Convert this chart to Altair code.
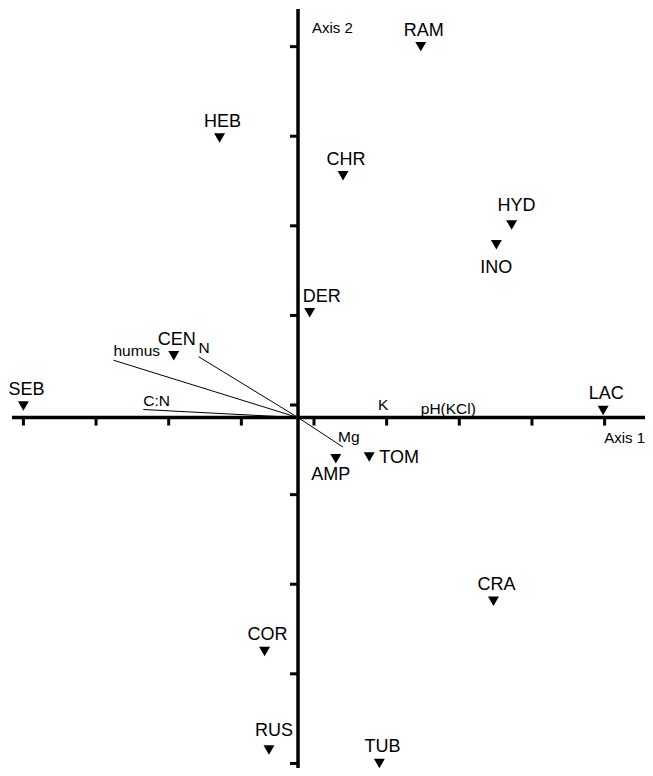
import altair as alt
import pandas as pd

# ---- data (axis units: one tick interval = 1) ----
sites = ["RAM", "HEB", "CHR", "HYD", "INO", "DER", "CEN", "SEB", "LAC",
         "AMP", "TOM", "CRA", "COR", "RUS", "TUB"]
site_x = [1.47, -1.30, 0.40, 2.72, 2.51, -0.06, -1.93, -4.00, 3.98,
          0.30, 0.76, 2.47, -0.68, -0.62, 0.90]
site_y = [4.00, 2.98, 2.56, 2.01, 1.79, 1.03, 0.55, -0.01, -0.06,
          -0.60, -0.58, -2.19, -2.75, -3.85, -4.00]
site_side = ["above", "above", "above", "above2", "below", "aboveright", "above",
             "above", "above", "belowleft", "right", "above", "above", "above2", "above"]

env_vars = ["humus", "N", "C:N", "K", "pH(KCl)", "Mg"]
env_x = [-2.76, -1.59, -2.35, 0.77, 1.47, 0.40]
env_y = [0.50, 0.54, -0.05, -0.15, -0.14, -0.47]
env_side = ["tipleft", "tipleft", "tipleft", "k", "tipleft", "mg"]

origin_x, origin_y = -0.22, -0.14
x_ticks = [-4, -3, -2, -1, 0, 1, 2, 3, 4]
y_ticks = [-4, -3, -2, -1, 0, 1, 2, 3, 4]
x_axis_extent = [-4.157, 4.556]
y_axis_extent = [-4.051, 4.420]
axis_titles = ["Axis 1", "Axis 2"]

FONT = "Liberation Sans"
W, H = 637, 760
xscale = alt.Scale(domain=[-4.212, 4.556], nice=False, zero=False)
yscale = alt.Scale(domain=[-4.051, 4.431], nice=False, zero=False)


def X(f="x"):
    return alt.X(f"{f}:Q", scale=xscale, axis=None)


def Y(f="y"):
    return alt.Y(f"{f}:Q", scale=yscale, axis=None)


sites_df = pd.DataFrame({"label": sites, "x": site_x, "y": site_y, "side": site_side})
env_df = pd.DataFrame({"label": env_vars, "x": env_x, "y": env_y, "side": env_side,
                       "x0": origin_x, "y0": origin_y})
axes_df = pd.DataFrame({
    "x": [x_axis_extent[0], origin_x],
    "x2": [x_axis_extent[1], origin_x],
    "y": [origin_y, y_axis_extent[0]],
    "y2": [origin_y, y_axis_extent[1]],
})
xt_df = pd.DataFrame({"x": x_ticks, "y": origin_y})
yt_df = pd.DataFrame({"y": y_ticks, "x": origin_x})
titles_df = pd.DataFrame({"label": axis_titles,
                          "x": [x_axis_extent[1], origin_x],
                          "y": [origin_y, y_axis_extent[1]],
                          "which": ["x", "y"]})

vectors = alt.Chart(env_df).mark_rule(color="black", strokeWidth=1).encode(
    x=X("x0"), y=Y("y0"), x2="x:Q", y2="y:Q")

axes = alt.Chart(axes_df).mark_rule(color="black", strokeWidth=3.5).encode(
    x=X("x"), y=Y("y"), x2="x2:Q", y2="y2:Q")

xticks = alt.Chart(xt_df).mark_tick(orient="vertical", size=8, thickness=3,
                                    yOffset=4, color="black", opacity=1).encode(x=X(), y=Y())
yticks = alt.Chart(yt_df).mark_tick(orient="horizontal", size=8, thickness=3,
                                    xOffset=-4, color="black", opacity=1).encode(x=X(), y=Y())

points = alt.Chart(sites_df).mark_point(shape="triangle-down", filled=True, size=120,
                                        color="black", opacity=1).encode(x=X(), y=Y())


def text_layer(df, side, align, dx, dy, size):
    return alt.Chart(df).transform_filter(alt.datum.side == side).mark_text(
        align=align, baseline="alphabetic", dx=dx, dy=dy, font=FONT,
        fontSize=size, color="black").encode(x=X(), y=Y(), text="label:N")


site_text = [
    text_layer(sites_df, "above", "center", 3, -11, 18),
    text_layer(sites_df, "above2", "center", 5, -14, 18),
    text_layer(sites_df, "aboveright", "center", 12, -11, 18),
    text_layer(sites_df, "below", "center", 0, 28, 18),
    text_layer(sites_df, "belowleft", "center", -5, 21.5, 18),
    text_layer(sites_df, "right", "left", 10, 6.5, 18),
]
env_text = [
    text_layer(env_df, "tipleft", "left", 0, -4, 15.5),
    text_layer(env_df, "k", "left", 8, -8, 15.5),
    text_layer(env_df, "mg", "left", -5, -5.5, 15.5),
]
title_x = alt.Chart(titles_df).transform_filter(alt.datum.which == "x").mark_text(
    align="right", baseline="alphabetic", dx=0, dy=25, font=FONT, fontSize=15,
    color="black").encode(x=X(), y=Y(), text="label:N")
title_y = alt.Chart(titles_df).transform_filter(alt.datum.which == "y").mark_text(
    align="left", baseline="alphabetic", dx=14, dy=24, font=FONT, fontSize=15,
    color="black").encode(x=X(), y=Y(), text="label:N")

chart = alt.layer(vectors, axes, xticks, yticks, points, *site_text, *env_text,
                  title_x, title_y).properties(
    width=W, height=H, padding=0,
    autosize=alt.AutoSizeParams(type="none"),
).configure_view(stroke=None)

chart.save("out.html", embed_options={"renderer": "svg", "actions": False})
